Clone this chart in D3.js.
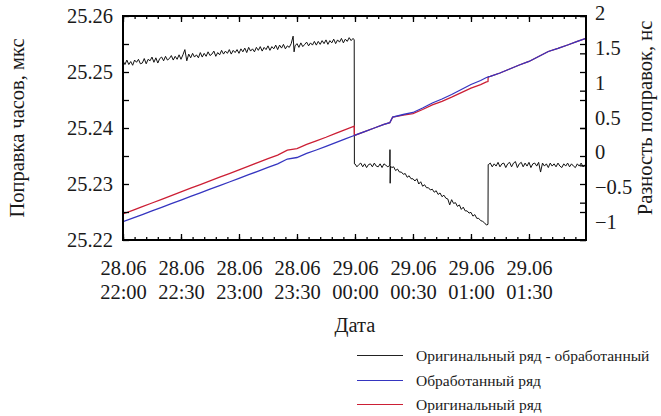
<!DOCTYPE html>
<html>
<head>
<meta charset="utf-8">
<script src="https://cdn.jsdelivr.net/npm/d3@7"></script>
<style>
body { margin: 0; background: #fff; }
text { font-family: "Liberation Serif", "DejaVu Serif", serif; fill: #1a1a1a; }
</style>
</head>
<body>
<svg id="chart" width="661" height="416"></svg>
<script>

// time axis: minutes since 28.06 22:00 (year is not shown on the chart)
var startTime = Date.UTC(2015, 5, 28, 22, 0);
var endMinute = 239.5;

// clock correction, microseconds (left axis)
var minutes = [0, 5, 10, 15, 20, 25, 30, 35, 40, 45, 50, 55, 60, 65, 70, 75, 80, 85, 90, 95, 100, 105, 110, 115,
    119.6, 119.7, 125, 130, 135, 138, 139.5, 145, 150, 155, 160, 165, 170, 175, 180, 185, 188, 188.8, 188.9,
    190, 195, 200, 205, 210, 215, 220, 225, 230, 235, 239.5];

var processed = [25.22327, 25.22391, 25.22455, 25.22520, 25.22584, 25.22650, 25.22714, 25.22779, 25.22843, 25.22907,
    25.22971, 25.23036, 25.23100, 25.23166, 25.23230, 25.23295, 25.23359, 25.23446, 25.23473, 25.23545,
    25.23607, 25.23671, 25.23739, 25.23804,
    25.23866, 25.23867, 25.23936, 25.24000, 25.24063, 25.24095, 25.24196, 25.24241, 25.24277, 25.24357,
    25.24446, 25.24518, 25.24598, 25.24688, 25.24777, 25.24848, 25.24902, 25.24910, 25.24911,
    25.24920, 25.24982, 25.25054, 25.25125, 25.25188, 25.25277, 25.25366, 25.25420, 25.25482, 25.25545, 25.25600];

var original = [25.22464, 25.22529, 25.22595, 25.22661, 25.22726, 25.22794, 25.22859, 25.22925, 25.22990, 25.23056,
    25.23121, 25.23187, 25.23253, 25.23320, 25.23385, 25.23452, 25.23517, 25.23605, 25.23633, 25.23707,
    25.23770, 25.23835, 25.23905, 25.23971,
    25.24034, 25.23867, 25.23936, 25.24000, 25.24063, 25.24095, 25.24194, 25.24230, 25.24258, 25.24330,
    25.24412, 25.24477, 25.24550, 25.24632, 25.24712, 25.24775, 25.24822, 25.24830, 25.24911,
    25.24920, 25.24982, 25.25054, 25.25125, 25.25188, 25.25277, 25.25366, 25.25420, 25.25482, 25.25545, 25.25600];

// original minus processed, nanoseconds (right axis): [minute, ns]
var diffPoints = [
    [0,1.40],[1,1.35],[2,1.41],[3,1.35],[4,1.39],[5,1.34],[6,1.41],[7,1.38],[8,1.42],[9,1.36],
    [10,1.37],[11,1.43],[12,1.36],[13,1.42],[14,1.40],[15,1.45],[16,1.38],[17,1.44],[18,1.37],[19,1.43],
    [20,1.45],[21,1.40],[22,1.46],[23,1.41],[24,1.43],[25,1.47],[26,1.41],[27,1.46],[28,1.42],[29,1.48],
    [30,1.42],[31,1.48],[32,1.55],[33,1.40],[34,1.49],[35,1.44],[36,1.50],[37,1.45],[38,1.48],[39,1.44],
    [40,1.51],[41,1.45],[42,1.50],[43,1.46],[44,1.52],[45,1.47],[46,1.49],[47,1.53],[48,1.46],[49,1.51],
    [50,1.48],[51,1.54],[52,1.49],[53,1.53],[54,1.50],[55,1.55],[56,1.49],[57,1.54],[58,1.51],[59,1.55],
    [60,1.50],[61,1.56],[62,1.52],[63,1.57],[64,1.51],[65,1.58],[66,1.53],[67,1.56],[68,1.52],[69,1.58],
    [70,1.54],[71,1.59],[72,1.53],[73,1.58],[74,1.55],[75,1.60],[76,1.54],[77,1.59],[78,1.56],[79,1.61],
    [80,1.55],[81,1.61],[82,1.57],[83,1.62],[84,1.56],[85,1.60],[86,1.58],[87,1.63],[88,1.73],[88.5,1.52],[89,1.60],
    [90,1.63],[91,1.58],[92,1.64],[93,1.59],[94,1.62],[95,1.65],[96,1.60],[97,1.64],[98,1.61],[99,1.66],
    [100,1.61],[101,1.66],[102,1.62],[103,1.67],[104,1.63],[105,1.68],[106,1.62],[107,1.67],[108,1.64],[109,1.69],
    [110,1.63],[111,1.68],[112,1.65],[113,1.70],[114,1.64],[115,1.69],[116,1.66],[117,1.71],[118,1.67],[119,1.70],
    [119.6,1.68],[119.7,0.02],
    [120,0.02],[121,-0.02],[122,0.01],[123,0.03],[124,-0.02],[125,0.02],[126,-0.03],[127,0.01],[128,0.02],[129,-0.02],
    [130,0.03],[131,-0.01],[132,-0.02],[133,0.02],[134,-0.03],[135,0.02],[136,0.00],[137,-0.02],
    [138,0.00],[138.1,0.21],[138.2,-0.24],[138.4,-0.01],
    [139,-0.03],[140,-0.02],[141,-0.07],[142,-0.05],[143,-0.09],[144,-0.09],[145,-0.12],[146,-0.11],[147,-0.16],[148,-0.14],
    [149,-0.18],[150,-0.18],[151,-0.21],[152,-0.18],[153,-0.25],[154,-0.22],[155,-0.28],[156,-0.26],[157,-0.30],[158,-0.30],
    [159,-0.33],[160,-0.32],[161,-0.36],[162,-0.34],[163,-0.39],[164,-0.37],[165,-0.42],[166,-0.40],[167,-0.44],[168,-0.45],
    [169,-0.53],[170,-0.46],[171,-0.51],[172,-0.50],[173,-0.55],[174,-0.53],[175,-0.59],[176,-0.56],[177,-0.61],[178,-0.61],
    [179,-0.64],[180,-0.63],[181,-0.68],[182,-0.66],[183,-0.71],[184,-0.71],[185,-0.74],[186,-0.75],[187,-0.77],[188,-0.80],
    [188.8,-0.79],[188.9,0.01],
    [189,0.01],[190,0.03],[191,-0.02],[192,0.02],[193,-0.01],[194,0.04],[195,-0.02],[196,0.02],[197,0.03],[198,-0.03],
    [199,0.02],[200,0.04],[201,-0.02],[202,0.03],[203,0.05],[204,-0.03],[205,0.02],[206,0.04],[207,-0.02],[208,0.03],
    [209,-0.01],[210,0.04],[211,-0.03],[212,0.02],[213,0.03],[214,-0.01],[215,0.04],[216,-0.09],[217,0.03],[218,-0.01],
    [219,0.02],[220,-0.03],[221,0.03],[222,-0.01],[223,0.02],[224,-0.02],[225,0.03],[226,-0.01],[227,-0.03],[228,0.02],
    [229,-0.01],[230,0.03],[231,-0.02],[232,0.02],[233,-0.01],[234,-0.03],[235,0.02],[236,-0.01],[237,0.03],[238,-0.02],
    [239,0.01],[239.5,0.00]
];

// ticks and labels
var xTickMinutes = [0, 30, 60, 90, 120, 150, 180, 210];
var leftTicks = [25.22, 25.23, 25.24, 25.25, 25.26];
var rightTicks = [-1, -0.5, 0, 0.5, 1, 1.5, 2];
var legendLabels = ["Оригинальный ряд - обработанный", "Обработанный ряд", "Оригинальный ряд"];
var legendColors = ["#222222", "#3535c0", "#cc1f35"];

// plot box
var box = {left: 123, right: 586, top: 16, bottom: 240};
var fontSize = 20.5;

function toDate(m) { return new Date(startTime + m * 60000); }

var xScale = d3.scaleUtc()
    .domain([toDate(0), toDate(endMinute)])
    .range([box.left, box.right]);

var yLeft = d3.scaleLinear()
    .domain([25.22, 25.26])
    .range([box.bottom, box.top]);

var yRight = d3.scaleLinear()
    .domain([-1, 2])
    .range([box.bottom, box.top]);

// the right tick labels sit a bit off their ticks in the original picture
var yRightLabel = d3.scaleLinear()
    .domain([-1, 2])
    .range([222, 13]);

var svg = d3.select("#chart");

svg.append("defs").append("clipPath").attr("id", "plot-clip")
    .append("rect")
    .attr("x", box.left).attr("y", box.top)
    .attr("width", box.right - box.left).attr("height", box.bottom - box.top);

// series
var lineData = minutes.map(function(m, i) {
    return {date: toDate(m), proc: processed[i], orig: original[i]};
});
var diffData = diffPoints.map(function(p) { return {date: toDate(p[0]), ns: p[1]}; });

var lineOrig = d3.line().x(d => xScale(d.date)).y(d => yLeft(d.orig));
var lineProc = d3.line().x(d => xScale(d.date)).y(d => yLeft(d.proc));
var lineDiff = d3.line().x(d => xScale(d.date)).y(d => yRight(d.ns));

var plot = svg.append("g").attr("clip-path", "url(#plot-clip)");

plot.append("path").datum(diffData)
    .attr("d", lineDiff)
    .attr("fill", "none").attr("stroke", "#111").attr("stroke-width", 1);

plot.append("path").datum(lineData)
    .attr("d", lineOrig)
    .attr("fill", "none").attr("stroke", legendColors[2]).attr("stroke-width", 1.3);

plot.append("path").datum(lineData)
    .attr("d", lineProc)
    .attr("fill", "none").attr("stroke", legendColors[1]).attr("stroke-width", 1.3);

// axes (ticks point inwards, gnuplot style)
function styleAxis(g) {
    g.select(".domain").remove();
    g.selectAll(".tick line").attr("stroke", "#000").attr("stroke-width", 1.3);
    g.attr("font-family", null).attr("font-size", null);
}

var minorX = d3.utcMinute.every(6).range(toDate(0), toDate(endMinute));

svg.append("g").attr("transform", "translate(0," + box.bottom + ")")
    .call(d3.axisBottom(xScale).tickValues(minorX).tickSize(-3).tickFormat(""))
    .call(styleAxis);
svg.append("g").attr("transform", "translate(0," + box.top + ")")
    .call(d3.axisTop(xScale).tickValues(minorX).tickSize(-3).tickFormat(""))
    .call(styleAxis);
svg.append("g").attr("transform", "translate(0," + box.top + ")")
    .call(d3.axisTop(xScale).tickValues(xTickMinutes.map(toDate)).tickSize(-6).tickFormat(""))
    .call(styleAxis);

var fmtDay = d3.utcFormat("%d.%m"), fmtTime = d3.utcFormat("%H:%M");

var xAxisGroup = svg.append("g").attr("transform", "translate(0," + box.bottom + ")")
    .call(d3.axisBottom(xScale).tickValues(xTickMinutes.map(toDate)).tickSize(-6).tickPadding(0).tickFormat(""))
    .call(styleAxis);

xAxisGroup.selectAll(".tick").each(function(d) {
    var t = d3.select(this).select("text")
        .attr("y", 0).attr("dy", null)
        .attr("font-size", fontSize);
    t.append("tspan").attr("x", 0).attr("y", 35).text(fmtDay(d));
    t.append("tspan").attr("x", 0).attr("y", 59).text(fmtTime(d));
});

// left axis: ticks every 0.005, labels every 0.01
var leftMinor = d3.range(25.22, 25.2601, 0.005);
svg.append("g").attr("transform", "translate(" + box.left + ",0)")
    .call(d3.axisLeft(yLeft).tickValues(leftMinor).tickSize(-6).tickFormat(""))
    .call(styleAxis);
svg.append("g").attr("transform", "translate(" + box.right + ",0)")
    .call(d3.axisRight(yLeft).tickValues(leftMinor).tickSize(-6).tickFormat(""))
    .call(styleAxis);
svg.append("g").attr("transform", "translate(" + box.left + ",0)")
    .call(d3.axisLeft(yLeft).tickValues(leftTicks).tickSize(0).tickPadding(10).tickFormat(d3.format(".2f")))
    .call(styleAxis)
    .selectAll("text")
    .attr("font-size", fontSize);

// right axis
svg.append("g").attr("transform", "translate(" + box.right + ",0)")
    .call(d3.axisRight(yRight).tickValues(rightTicks).tickSize(-6).tickFormat(""))
    .call(styleAxis);
svg.append("g").attr("transform", "translate(" + box.right + ",0)")
    .call(d3.axisRight(yRightLabel).tickValues(rightTicks).tickSize(0).tickPadding(9).tickFormat(d3.format("")))
    .call(styleAxis)
    .selectAll("text")
    .attr("font-size", fontSize);

// frame
svg.append("rect")
    .attr("x", box.left).attr("y", box.top)
    .attr("width", box.right - box.left).attr("height", box.bottom - box.top)
    .attr("fill", "none").attr("stroke", "#000").attr("stroke-width", 2);

// axis titles
svg.append("text")
    .attr("transform", "translate(24,128) rotate(-90)")
    .attr("text-anchor", "middle").attr("font-size", fontSize)
    .text("Поправка часов, мкс");

svg.append("text")
    .attr("transform", "translate(652,118) rotate(-90)")
    .attr("text-anchor", "middle").attr("font-size", fontSize)
    .text("Разность поправок, нс");

svg.append("text")
    .attr("x", 355).attr("y", 332)
    .attr("text-anchor", "middle").attr("font-size", fontSize)
    .text("Дата");

// legend
var legend = svg.append("g").attr("id", "legend");
legendLabels.forEach(function(label, i) {
    var y = Math.round(355 + i * 24.5) + 0.5;
    legend.append("line")
        .attr("x1", 357).attr("x2", 403).attr("y1", y).attr("y2", y)
        .attr("stroke", legendColors[i]).attr("stroke-width", 1);
    legend.append("text")
        .attr("x", 416).attr("y", y).attr("dy", "0.33em")
        .attr("font-size", 15.5)
        .text(label);
});

</script>
</body>
</html>
